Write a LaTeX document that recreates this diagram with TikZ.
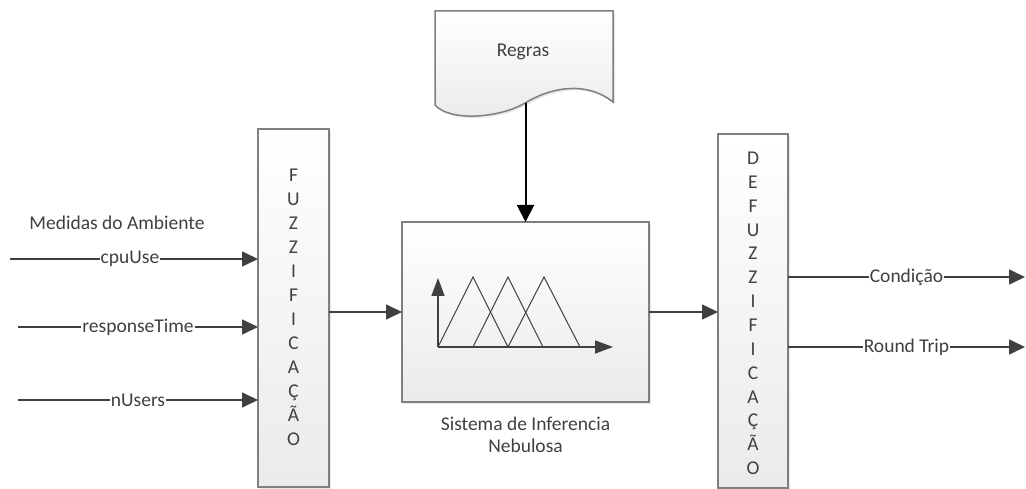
\documentclass[tikz,border=0pt]{standalone}
\usepackage{fontspec}
\setmainfont{Carlito}
\usetikzlibrary{arrows.meta,shadows}

\definecolor{ink}{HTML}{404040}
\definecolor{edge}{HTML}{7F7F7F}

\begin{document}
\begin{tikzpicture}[x=1pt,y=-1pt,
  every node/.style={font=\fontsize{19.5}{24}\selectfont, text=ink},
  block/.style={draw=edge, line width=1.5pt, top color=white, bottom color=black!8,
    inner sep=0pt, outer sep=0pt,
    drop shadow={opacity=0.18, shadow xshift=2pt, shadow yshift=-2pt}},
  flow/.style={draw=ink, line width=1.6pt, -{Triangle[length=16pt,width=15pt]}},
  lab/.style={fill=white, inner sep=1pt},
  letter/.style={anchor=base, inner sep=0pt},
  axis/.style={draw=ink, line width=1.4pt, -{Triangle[length=18pt,width=13pt]}},
  tri/.style={draw=ink, line width=1pt, line join=miter},
]
\useasboundingbox (0,0) rectangle (1026,489);

% processing blocks
\node[block, minimum width=71pt, minimum height=358pt] (fuzz) at (293.5,308) {};
\node[block, minimum width=70pt, minimum height=354pt] (defuzz) at (753,311) {};
\node[block, minimum width=247pt, minimum height=180pt] (sys) at (525.5,312) {};

% rule base (document shape)
\path[block] (435,11) -- (613,11) -- (613,102)
  .. controls (585,80) and (550,88) .. (525,103)
  .. controls (500,118) and (450,122) .. (435,105) -- cycle;
\node (regras) at (523,52) {Regras};
\coordinate (rb) at (525.5,103);
\draw[line width=2pt, black, -{Triangle[length=17pt,width=17pt]}] (rb) -- (sys.north);

% vertical labels
\foreach \l [count=\i] in {F,U,Z,Z,I,F,I,C,A,Ç,Ã,O}
  \node[letter] (fl\i) at (293.5,{181.5+24*(\i-1)}) {\l};
\foreach \l [count=\i] in {D,E,F,U,Z,Z,I,F,I,C,A,Ç,Ã,O}
  \node[letter] (dl\i) at (753,{164.5+23.85*(\i-1)}) {\l};

% membership functions
\coordinate (o) at (438,347);
\draw[axis] (o) -- (438,278);
\draw[axis] (o) -- (613,347);
\draw[tri] (438,347) -- (473,277) -- (508,347);
\draw[tri] (473,347) -- (508,277) -- (543,347);
\draw[tri] (508,347) -- (544,277) -- (580,347);
\node[align=center, font=\fontsize{19.5}{22}\selectfont] (cap) at (525.5,435)
  {Sistema de Inferencia\\Nebulosa};

% inputs
\node (medidas) at (117,223) {Medidas do Ambiente};
\coordinate (i1) at (10,259);
\coordinate (i2) at (18,327);
\coordinate (i3) at (18,400);
\draw[flow] (i1) -- node[lab, pos=0.484] {cpuUse} (fuzz.west |- i1);
\draw[flow] (i2) -- node[lab] {responseTime} (fuzz.west |- i2);
\draw[flow] (i3) -- node[lab] {nUsers} (fuzz.west |- i3);

% internal flow
\draw[flow] (fuzz.east |- sys.west) -- (sys.west);
\draw[flow] (sys.east) -- (defuzz.west |- sys.east);

% outputs
\coordinate (o1) at (1025,277);
\coordinate (o2) at (1025,347);
\draw[flow] (defuzz.east |- o1) -- node[lab] {Condição} (o1);
\draw[flow] (defuzz.east |- o2) -- node[lab] {Round Trip} (o2);
\end{tikzpicture}
\end{document}
